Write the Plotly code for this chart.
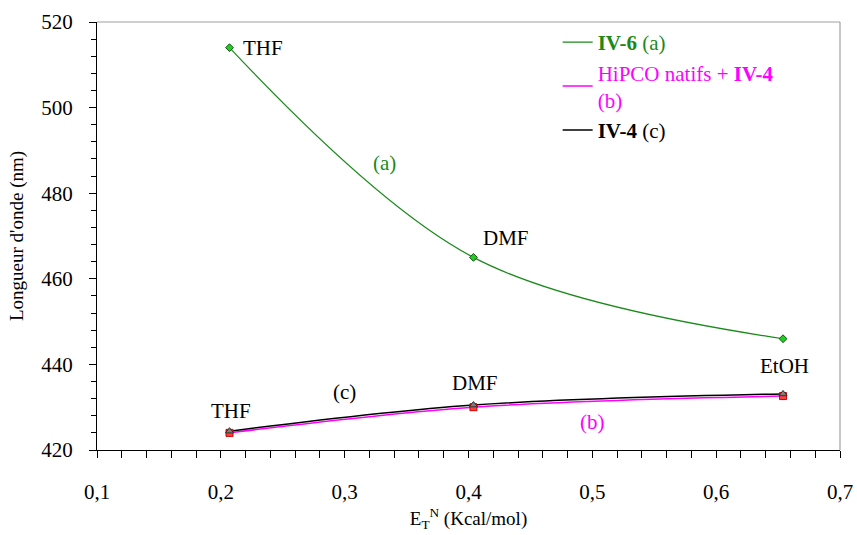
import plotly.graph_objects as go

solvents = ["THF", "DMF", "EtOH"]
et_n = [0.207, 0.404, 0.654]
iv6 = [514.0, 465.0, 446.0]
hipco_iv4 = [424.0, 430.0, 432.6]
iv4 = [424.4, 430.5, 433.1]

FONT = "Liberation Serif"
GREEN = "#1a8a1a"
MAGENTA = "#ff00ff"

fig = go.Figure()

fig.add_trace(go.Scatter(x=et_n, y=iv6, mode="lines", line=dict(color=GREEN, width=1.2, shape="spline"),
                         name="<span style='color:#1a8a1a'><b>IV-6</b> (a)</span>"))
fig.add_trace(go.Scatter(x=et_n, y=hipco_iv4, mode="lines", line=dict(color=MAGENTA, width=1.5, shape="spline"),
                         name="<span style='color:#ff00ff'>HiPCO natifs + <b>IV-4</b><br>(b)</span>"))
fig.add_trace(go.Scatter(x=et_n, y=iv4, mode="lines", line=dict(color="black", width=1.5, shape="spline"),
                         name="<b>IV-4</b> (c)"))
fig.add_trace(go.Scatter(x=et_n, y=iv6, mode="markers", showlegend=False,
                         marker=dict(symbol="diamond", size=6, color="#22cc22", line=dict(color="#0a5a0a", width=1))))
fig.add_trace(go.Scatter(x=et_n, y=hipco_iv4, mode="markers", showlegend=False,
                         marker=dict(symbol="square", size=7, color="#ff4040", line=dict(color="#cc0000", width=1))))
fig.add_trace(go.Scatter(x=et_n, y=iv4, mode="markers", showlegend=False,
                         marker=dict(symbol="triangle-up", size=7, color="#808080", line=dict(color="#303030", width=1))))

ann = [
    (0.216, iv6[0], "THF", "black", "left"),
    (0.410, iv6[1] + 4.5, "DMF", "black", "left"),
    (0.655, 439.6, "EtOH", "black", "center"),
    (0.208, iv4[0] + 4.8, "THF", "black", "center"),
    (0.405, 435.6, "DMF", "black", "center"),
    (0.300, 433.6, "(c)", "black", "center"),
    (0.332, 487.0, "(a)", GREEN, "center"),
    (0.500, 426.5, "(b)", MAGENTA, "center"),
]
for x, y, t, c, al in ann:
    fig.add_annotation(x=x, y=y, text=t, showarrow=False, xanchor=al, yanchor="middle",
                       font=dict(family=FONT, size=21, color=c))

fig.add_shape(type="line", xref="x domain", yref="y domain", x0=0, x1=1, y0=1, y1=1,
              line=dict(color="#a0a0a0", width=1.2))
fig.add_shape(type="line", xref="x domain", yref="y domain", x0=1, x1=1, y0=0, y1=1,
              line=dict(color="#a0a0a0", width=1.2))

fig.update_layout(
    width=857, height=535,
    margin=dict(l=97, r=17, t=22, b=85, autoexpand=False),
    plot_bgcolor="white", paper_bgcolor="white",
    separators=", ",
    font=dict(family=FONT, size=21, color="black"),
    showlegend=True,
    legend=dict(x=0.62, y=1.0, xanchor="left", yanchor="top", bgcolor="rgba(0,0,0,0)",
                font=dict(family=FONT, size=21), tracegroupgap=0, itemwidth=30),
    xaxis=dict(range=[0.1, 0.7], dtick=0.1, tick0=0.1, tickformat=".1f", automargin=False,
               showgrid=False, zeroline=False, showline=True, linecolor="black", linewidth=1.2,
               ticks="outside", ticklen=7, tickcolor="black",
               tickfont=dict(family=FONT, size=21),
               minor=dict(dtick=0.02, ticks="outside", ticklen=7, tickcolor="black"),
               ticklabelstandoff=16,
               title=dict(text="E<sub>T</sub><sup>N</sup> (Kcal/mol)", font=dict(family=FONT, size=19), standoff=8)),
    yaxis=dict(range=[420, 520], dtick=20, tick0=420, automargin=False,
               showgrid=False, zeroline=False, showline=True, linecolor="black", linewidth=1.2,
               ticks="outside", ticklen=7, tickcolor="black",
               tickfont=dict(family=FONT, size=21),
               minor=dict(dtick=4, ticks="outside", ticklen=5, tickcolor="black"),
               ticklabelstandoff=12,
               title=dict(text="Longueur d'onde (nm)", font=dict(family=FONT, size=19), standoff=12)),
)

post = (
    "document.body.style.margin='0';"
    "var s=document.createElement('style');"
    "s.textContent=\".js-plotly-plot text, .js-plotly-plot tspan{font-family:'Liberation Serif', serif !important;}\";"
    "document.head.appendChild(s);"
)
fig.write_html("out.html", config={"displayModeBar": False}, post_script=post)
